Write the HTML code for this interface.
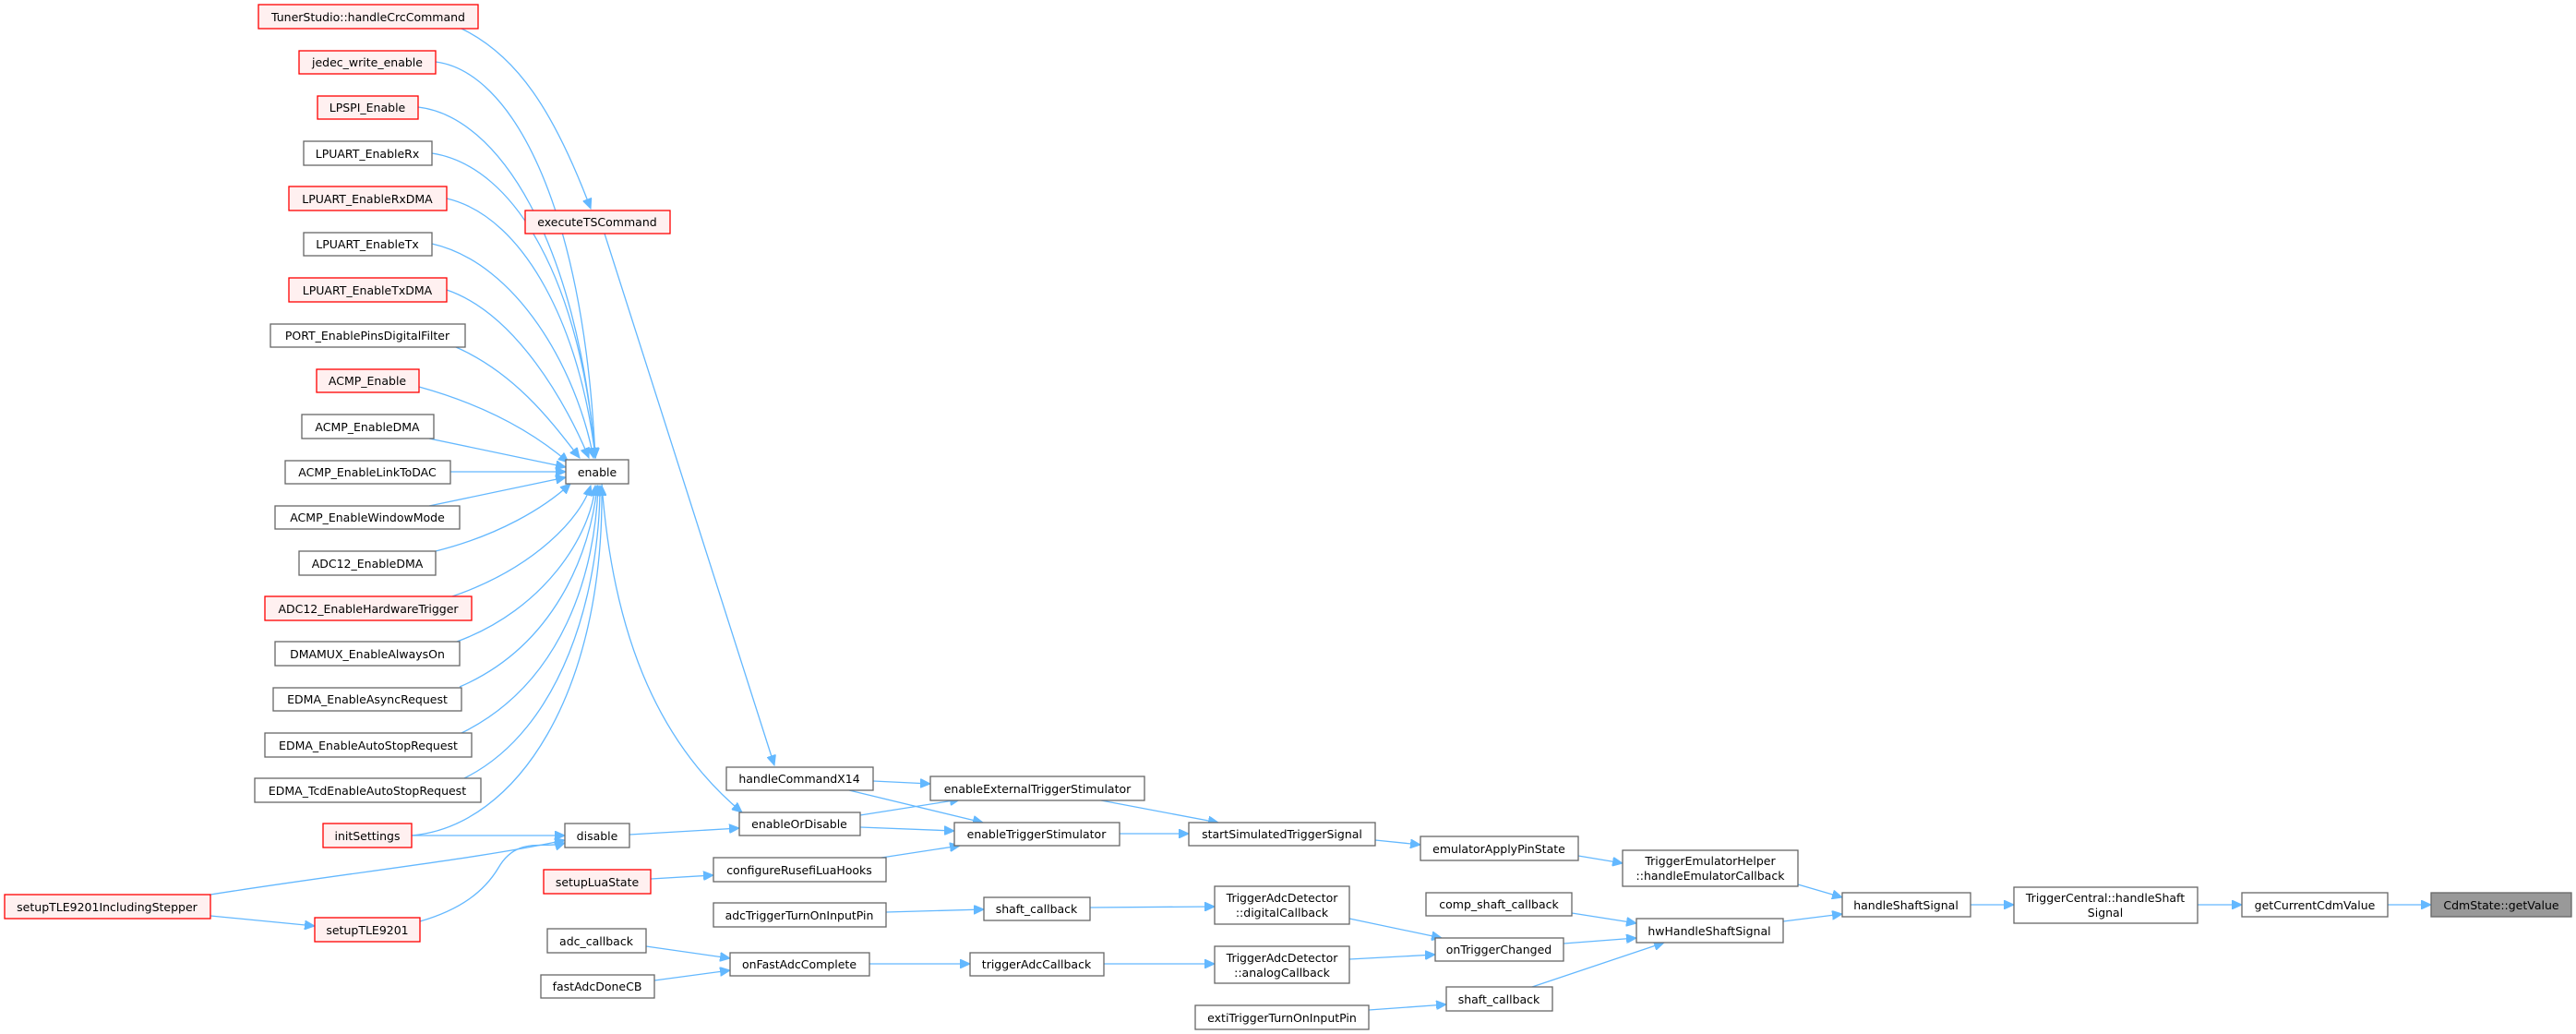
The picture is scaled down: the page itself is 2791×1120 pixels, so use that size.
<!DOCTYPE html>
<html><head><meta charset="utf-8"><style>
html,body{margin:0;padding:0;background:#fff;}
svg{display:block;}
text{font-family:"DejaVu Sans","Liberation Sans",sans-serif;font-size:12.5px;fill:#000;}
.n rect{fill:#fff;stroke:#666;stroke-width:1.3;}
.r rect{fill:#fff0f0;stroke:#ff0000;stroke-width:1.3;}
.g rect{fill:#999;stroke:#666;stroke-width:1.3;}
path{fill:none;stroke:#63b8ff;stroke-width:1.3;}
</style></head><body>
<svg width="2791" height="1120" viewBox="0 0 2791 1120" xmlns="http://www.w3.org/2000/svg">
<defs><marker id="a" markerUnits="userSpaceOnUse" markerWidth="12" markerHeight="10" refX="11" refY="5" orient="auto"><path d="M0,0 L11,5 L0,10 Z" style="fill:#63b8ff;stroke:#63b8ff;stroke-width:1"/></marker></defs>
<g marker-end="url(#a)">
<path d="M500,31 C560,60 600,120 640,226"/>
<path d="M472,67 C552,77 632,217 645,496"/>
<path d="M453,116 C540,126 625,260 645,496"/>
<path d="M468,166 C560,180 630,310 645,496"/>
<path d="M484,215 C570,235 630,360 645,496"/>
<path d="M468,264 C560,285 625,400 643,496"/>
<path d="M484,314 C560,340 615,440 638,496"/>
<path d="M494,376 C560,405 600,460 628,496"/>
<path d="M454,419 C530,440 580,470 616,501"/>
<path d="M465,475 L613,506"/>
<path d="M488,511 L613,511"/>
<path d="M465,548 L613,517"/>
<path d="M472,597 C540,580 590,550 618,524"/>
<path d="M490,646 C580,615 630,560 640,526"/>
<path d="M495,695 C590,660 640,580 645,526"/>
<path d="M498,744 C600,700 640,600 647,526"/>
<path d="M500,794 C610,740 645,620 648,526"/>
<path d="M503,843 C610,790 650,640 650,526"/>
<path d="M446,905 C560,895 655,750 652,526"/>
<path d="M655,253 L839,829"/>
<path d="M652,524 C665,700 720,810 804,880"/>
<path d="M682,904 L801,897"/>
<path d="M446,905 L612,905"/>
<path d="M228,969 C380,945 520,930 612,910"/>
<path d="M228,992 L341,1003"/>
<path d="M455,998 C500,985 525,965 540,940 C560,905 590,920 612,913"/>
<path d="M705,952 L773,948"/>
<path d="M700,1025 L791,1038"/>
<path d="M709,1062 L791,1051"/>
<path d="M946,846 L1008,849"/>
<path d="M920,856 L1065,891"/>
<path d="M932,883 L1040,866"/>
<path d="M932,896 L1034,900"/>
<path d="M955,929 L1040,916"/>
<path d="M1193,867 L1320,891"/>
<path d="M1213,903 L1288,903"/>
<path d="M1490,910 L1539,915"/>
<path d="M1710,927 L1758,935"/>
<path d="M960,988 L1066,985"/>
<path d="M1181,983 L1316,982"/>
<path d="M942,1044 L1051,1044"/>
<path d="M1196,1044 L1316,1044"/>
<path d="M1462,995 L1562,1016"/>
<path d="M1462,1039 L1555,1034"/>
<path d="M1703,989 L1773,1000"/>
<path d="M1694,1022 L1773,1016"/>
<path d="M1660,1069 L1803,1021"/>
<path d="M1483,1094 L1567,1088"/>
<path d="M1948,958 L1996,972"/>
<path d="M1932,998 L1996,990"/>
<path d="M2135,980 L2182,980"/>
<path d="M2381,980 L2429,980"/>
<path d="M2587,980 L2634,980"/>
</g>
<g text-anchor="middle">
<g class="r"><rect x="280" y="5" width="238" height="26"/><text x="399" y="23">TunerStudio::handleCrcCommand</text></g>
<g class="r"><rect x="324" y="55" width="148" height="25"/><text x="398" y="72">jedec_write_enable</text></g>
<g class="r"><rect x="344" y="104" width="109" height="25"/><text x="398" y="121">LPSPI_Enable</text></g>
<g class="n"><rect x="329" y="153" width="139" height="26"/><text x="398" y="171">LPUART_EnableRx</text></g>
<g class="r"><rect x="313" y="202" width="171" height="26"/><text x="398" y="220">LPUART_EnableRxDMA</text></g>
<g class="n"><rect x="329" y="252" width="139" height="25"/><text x="398" y="269">LPUART_EnableTx</text></g>
<g class="r"><rect x="313" y="301" width="171" height="26"/><text x="398" y="319">LPUART_EnableTxDMA</text></g>
<g class="n"><rect x="293" y="351" width="211" height="25"/><text x="398" y="368">PORT_EnablePinsDigitalFilter</text></g>
<g class="r"><rect x="343" y="400" width="111" height="25"/><text x="398" y="417">ACMP_Enable</text></g>
<g class="n"><rect x="327" y="449" width="143" height="26"/><text x="398" y="467">ACMP_EnableDMA</text></g>
<g class="n"><rect x="309" y="499" width="179" height="25"/><text x="398" y="516">ACMP_EnableLinkToDAC</text></g>
<g class="n"><rect x="298" y="548" width="200" height="25"/><text x="398" y="565">ACMP_EnableWindowMode</text></g>
<g class="n"><rect x="324" y="597" width="148" height="26"/><text x="398" y="615">ADC12_EnableDMA</text></g>
<g class="r"><rect x="287" y="646" width="224" height="26"/><text x="399" y="664">ADC12_EnableHardwareTrigger</text></g>
<g class="n"><rect x="298" y="695" width="200" height="26"/><text x="398" y="713">DMAMUX_EnableAlwaysOn</text></g>
<g class="n"><rect x="296" y="745" width="204" height="25"/><text x="398" y="762">EDMA_EnableAsyncRequest</text></g>
<g class="n"><rect x="287" y="794" width="224" height="26"/><text x="399" y="812">EDMA_EnableAutoStopRequest</text></g>
<g class="n"><rect x="276" y="843" width="245" height="26"/><text x="398" y="861">EDMA_TcdEnableAutoStopRequest</text></g>
<g class="r"><rect x="350" y="892" width="96" height="26"/><text x="398" y="910">initSettings</text></g>
<g class="r"><rect x="569" y="228" width="157" height="25"/><text x="647" y="245">executeTSCommand</text></g>
<g class="n"><rect x="613" y="498" width="68" height="26"/><text x="647" y="516">enable</text></g>
<g class="n"><rect x="612" y="892" width="70" height="26"/><text x="647" y="910">disable</text></g>
<g class="r"><rect x="5" y="969" width="223" height="26"/><text x="116" y="987">setupTLE9201IncludingStepper</text></g>
<g class="r"><rect x="341" y="994" width="114" height="26"/><text x="398" y="1012">setupTLE9201</text></g>
<g class="r"><rect x="589" y="942" width="116" height="26"/><text x="647" y="960">setupLuaState</text></g>
<g class="n"><rect x="593" y="1006" width="107" height="26"/><text x="646" y="1024">adc_callback</text></g>
<g class="n"><rect x="586" y="1056" width="123" height="25"/><text x="647" y="1073">fastAdcDoneCB</text></g>
<g class="n"><rect x="787" y="831" width="159" height="25"/><text x="866" y="848">handleCommandX14</text></g>
<g class="n"><rect x="1008" y="841" width="232" height="26"/><text x="1124" y="859">enableExternalTriggerStimulator</text></g>
<g class="n"><rect x="801" y="880" width="131" height="25"/><text x="866" y="897">enableOrDisable</text></g>
<g class="n"><rect x="1034" y="891" width="179" height="25"/><text x="1123" y="908">enableTriggerStimulator</text></g>
<g class="n"><rect x="1288" y="891" width="202" height="25"/><text x="1389" y="908">startSimulatedTriggerSignal</text></g>
<g class="n"><rect x="1539" y="906" width="171" height="26"/><text x="1624" y="924">emulatorApplyPinState</text></g>
<g class="n"><rect x="773" y="929" width="187" height="26"/><text x="866" y="947">configureRusefiLuaHooks</text></g>
<g class="n"><rect x="773" y="978" width="187" height="26"/><text x="866" y="996">adcTriggerTurnOnInputPin</text></g>
<g class="n"><rect x="1066" y="972" width="115" height="25"/><text x="1123" y="989">shaft_callback</text></g>
<g class="n"><rect x="1316" y="960" width="146" height="41"/><text x="1389" y="977">TriggerAdcDetector</text><text x="1389" y="993">::digitalCallback</text></g>
<g class="n"><rect x="1545" y="967" width="158" height="25"/><text x="1624" y="984">comp_shaft_callback</text></g>
<g class="n"><rect x="1555" y="1016" width="139" height="25"/><text x="1624" y="1033">onTriggerChanged</text></g>
<g class="n"><rect x="791" y="1032" width="151" height="25"/><text x="866" y="1049">onFastAdcComplete</text></g>
<g class="n"><rect x="1051" y="1032" width="145" height="25"/><text x="1123" y="1049">triggerAdcCallback</text></g>
<g class="n"><rect x="1316" y="1025" width="146" height="40"/><text x="1389" y="1042">TriggerAdcDetector</text><text x="1389" y="1058">::analogCallback</text></g>
<g class="n"><rect x="1567" y="1069" width="115" height="26"/><text x="1624" y="1087">shaft_callback</text></g>
<g class="n"><rect x="1295" y="1089" width="188" height="26"/><text x="1389" y="1107">extiTriggerTurnOnInputPin</text></g>
<g class="n"><rect x="1758" y="921" width="190" height="39"/><text x="1853" y="937">TriggerEmulatorHelper</text><text x="1853" y="953">::handleEmulatorCallback</text></g>
<g class="n"><rect x="1773" y="995" width="159" height="26"/><text x="1852" y="1013">hwHandleShaftSignal</text></g>
<g class="n"><rect x="1996" y="967" width="139" height="26"/><text x="2065" y="985">handleShaftSignal</text></g>
<g class="n"><rect x="2182" y="961" width="199" height="39"/><text x="2281" y="977">TriggerCentral::handleShaft</text><text x="2281" y="993">Signal</text></g>
<g class="n"><rect x="2429" y="967" width="158" height="26"/><text x="2508" y="985">getCurrentCdmValue</text></g>
<g class="g"><rect x="2634" y="967" width="152" height="26"/><text x="2710" y="985">CdmState::getValue</text></g>
</g>
</svg>
</body></html>
